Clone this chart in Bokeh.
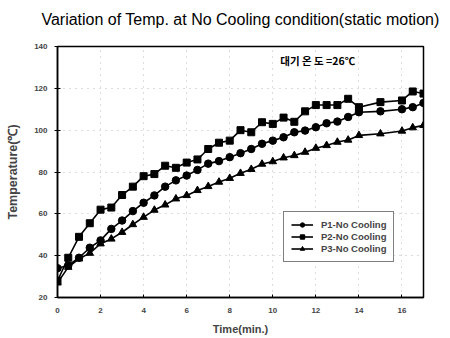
from bokeh.plotting import figure
from bokeh.models import ColumnDataSource, Legend, LegendItem, FixedTicker, Label, Range1d, Title
from bokeh.embed import file_html
from bokeh.resources import INLINE

time_min = [0, 0.5, 1, 1.5, 2, 2.5, 3, 3.5, 4, 4.5, 5, 5.5, 6, 6.5, 7, 7.5, 8, 8.5,
            9, 9.5, 10, 10.5, 11, 11.5, 12, 12.5, 13, 13.5, 14, 15, 16, 16.5, 17]
p1_no_cooling = [34, 35.3, 39, 43.8, 47.3, 52.8, 56.8, 61.3, 65.3, 68.8, 73, 76, 78.3, 81,
                 84, 85.2, 87.1, 89, 91, 93.5, 95, 96.6, 99, 99.8, 101.4, 103.3, 104.1,
                 106.3, 108.6, 109, 110, 111, 113]
p2_no_cooling = [28, 39, 49, 55.5, 62, 63, 69, 73, 78, 79, 83, 82, 84.5, 86, 91, 94, 95,
                 100, 99, 103.8, 103, 106, 104, 109, 112, 112, 112, 115, 111, 113.4, 114.2,
                 118.5, 117.5]
p3_no_cooling = [27, 34.5, 38.5, 41.2, 45.7, 48, 51.2, 54.9, 58.4, 61.8, 64.3, 67.2, 68.8,
                 71.2, 73.1, 75.2, 77, 79.4, 81.3, 83.8, 85, 86.8, 87.9, 89.5, 91.4, 92.7,
                 94.3, 95.3, 97.5, 98.3, 99.6, 101.2, 102.3]
x_ticks = [0, 2, 4, 6, 8, 10, 12, 14, 16]
y_ticks = [20, 40, 60, 80, 100, 120, 140]
title_text = "Variation of Temp. at No Cooling condition(static motion)"

FONT = "Liberation Sans"

p = figure(width=450, height=338, output_backend="svg", toolbar_location=None,
           x_range=Range1d(0, 17), y_range=Range1d(20, 140),
           min_border_left=57, min_border_right=27, min_border_top=46, min_border_bottom=41)

p.title.visible = False

# near-invisible spacer closest to the frame, then the main title above it
spacer = Title(text=".", text_font=FONT, text_font_size="8px", text_color="white",
               text_alpha=0.01, standoff=12)
p.add_layout(spacer, "above")
main_title = Title(text=title_text, align="center", vertical_align="bottom",
                   text_font=FONT, text_font_size="16px", text_font_style="normal",
                   text_color="black", standoff=0, offset=3)
p.add_layout(main_title, "above")

p.outline_line_color = "black"
p.outline_line_width = 1.5
p.background_fill_color = "white"
p.border_fill_color = "white"

for ax in (p.xaxis, p.yaxis):
    ax.axis_line_color = "black"
    ax.axis_line_width = 1.5
    ax.major_tick_line_color = "black"
    ax.minor_tick_line_color = None
    ax.major_label_text_font = FONT
    ax.major_label_text_font_size = "8px"
    ax.major_label_text_font_style = "bold"
    ax.axis_label_text_font = FONT
    ax.axis_label_text_font_style = "bold"

p.xaxis.axis_label_text_font_size = "11px"
p.yaxis.axis_label_text_font_size = "12.5px"
p.xaxis.ticker = FixedTicker(ticks=x_ticks)
p.yaxis.ticker = FixedTicker(ticks=y_ticks)
p.xaxis.major_tick_in = 3
p.xaxis.major_tick_out = 0
p.yaxis.major_tick_in = 3
p.yaxis.major_tick_out = 3
p.xaxis.major_label_standoff = 10
p.yaxis.major_label_standoff = 7
p.xaxis.axis_label = "Time(min.)"
p.yaxis.axis_label = "Temperature(\u2103)"
p.xaxis.axis_label_standoff = 7
p.yaxis.axis_label_standoff = 11

p.xgrid.grid_line_color = "#bbbbbb"
p.ygrid.grid_line_color = "#bbbbbb"
p.xgrid.grid_line_dash = "1 5"
p.ygrid.grid_line_dash = "1 5"
p.xgrid.ticker = FixedTicker(ticks=x_ticks)
p.ygrid.ticker = FixedTicker(ticks=y_ticks)

src = ColumnDataSource(dict(t=time_min, p1=p1_no_cooling, p2=p2_no_cooling, p3=p3_no_cooling))

l1 = p.line("t", "p1", source=src, line_color="black", line_width=1.6)
m1 = p.scatter("t", "p1", source=src, marker="circle", size=7.5, color="black")
l2 = p.line("t", "p2", source=src, line_color="black", line_width=1.6)
m2 = p.scatter("t", "p2", source=src, marker="square", size=7, color="black")
l3 = p.line("t", "p3", source=src, line_color="black", line_width=1.6)
m3 = p.scatter("t", "p3", source=src, marker="triangle", size=7.5, color="black")

legend = Legend(items=[
    LegendItem(label="P1-No Cooling", renderers=[l1, m1]),
    LegendItem(label="P2-No Cooling", renderers=[l2, m2]),
    LegendItem(label="P3-No Cooling", renderers=[l3, m3]),
], location=(226, 35))
legend.border_line_color = "black"
legend.border_line_width = 1
legend.background_fill_color = "white"
legend.background_fill_alpha = 1
legend.padding = 7
legend.spacing = 1
legend.margin = 0
legend.label_height = 11
legend.glyph_height = 11
legend.glyph_width = 22
legend.label_standoff = 8
legend.label_text_font = FONT
legend.label_text_font_size = "9.5px"
legend.label_text_font_style = "bold"
p.add_layout(legend, "center")

note = Label(x=10.35, y=133.3, text="\ub300\uae30 \uc628 \ub3c4 =26\u2103",
             text_font="Noto Sans CJK KR", text_font_size="10.5px", text_color="black",
             text_font_style="bold", text_baseline="middle")
p.add_layout(note)

open("out.html", "w").write(file_html(p, INLINE))
